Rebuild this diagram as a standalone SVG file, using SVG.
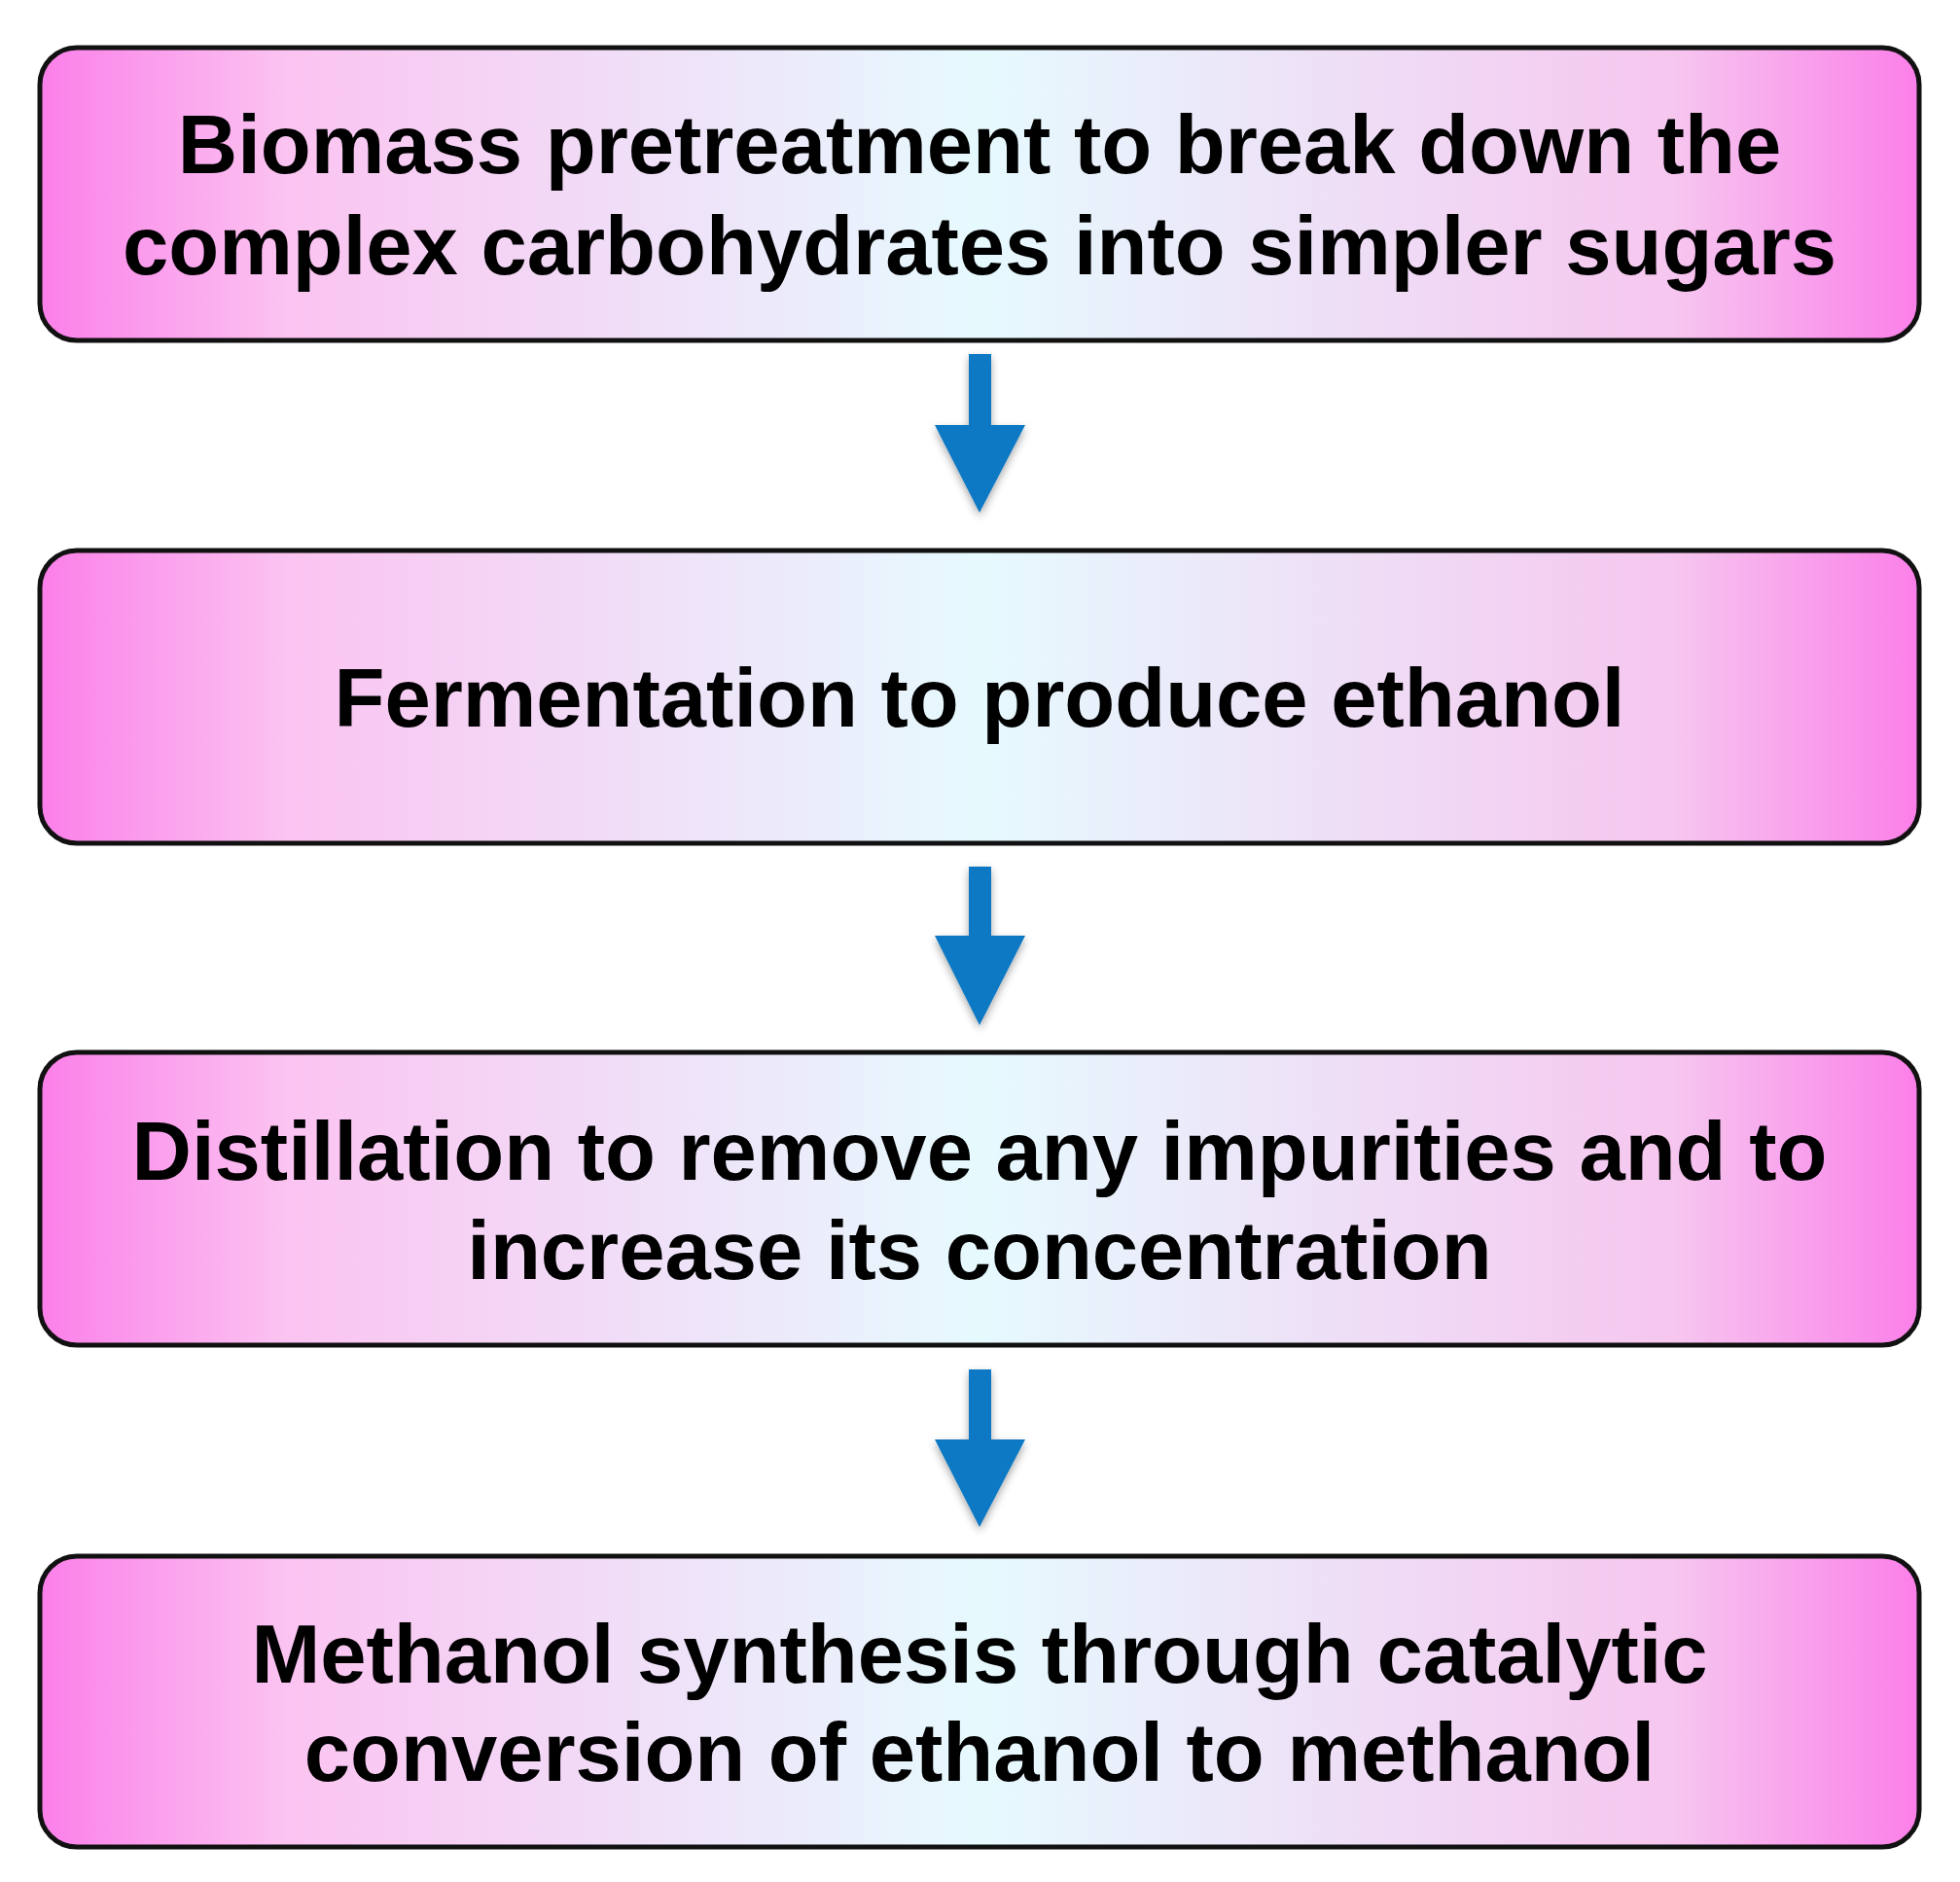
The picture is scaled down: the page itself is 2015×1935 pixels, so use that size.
<svg xmlns="http://www.w3.org/2000/svg" width="2015" height="1935" viewBox="0 0 2015 1935">
<defs>
<linearGradient id="g" x1="0" y1="0" x2="1" y2="0">
<stop offset="0" stop-color="#fb7fe9"/>
<stop offset="0.13" stop-color="#fbc3f1"/>
<stop offset="0.5" stop-color="#e6fafe"/>
<stop offset="0.87" stop-color="#f6c6ef"/>
<stop offset="1" stop-color="#fb7fe9"/>
</linearGradient>
<filter id="sh" x="-10%" y="-10%" width="120%" height="130%"><feDropShadow dx="0" dy="4" stdDeviation="4" flood-opacity="0.35"/></filter>
</defs>
<style>
.b{fill:url(#g);stroke:#111;stroke-width:5}
.t{font-family:"Liberation Sans",Arial,sans-serif;font-weight:bold;font-size:85px;fill:#000;text-anchor:middle}
.a{fill:#0a78c3}
</style>
<rect width="2015" height="1935" fill="#fff"/>
<g id="n1"><rect class="b" x="41" y="49" width="1932" height="301" rx="38"/>
<text class="t" x="1007" y="178">Biomass pretreatment to break down the</text>
<text class="t" x="1007" y="282">complex carbohydrates into simpler sugars</text></g>
<g id="n2"><rect class="b" x="41" y="566" width="1932" height="301" rx="38"/>
<text class="t" x="1007" y="747">Fermentation to produce ethanol</text></g>
<g id="n3"><rect class="b" x="41" y="1082" width="1932" height="301" rx="38"/>
<text class="t" x="1007" y="1213">Distillation to remove any impurities and to</text>
<text class="t" x="1007" y="1315">increase its concentration</text></g>
<g id="n4"><rect class="b" x="41" y="1600" width="1932" height="299" rx="38"/>
<text class="t" x="1007" y="1730">Methanol synthesis through catalytic</text>
<text class="t" x="1007" y="1831">conversion of ethanol to methanol</text></g>
<g id="connectors" filter="url(#sh)">
<path class="a" d="M996 364H1019V437H1054L1007 527L961 437H996Z"/>
<path class="a" d="M996 891H1019V962H1054L1007 1054L961 962H996Z"/>
<path class="a" d="M996 1408H1019V1480H1054L1007 1570L961 1480H996Z"/>
</g>
</svg>
